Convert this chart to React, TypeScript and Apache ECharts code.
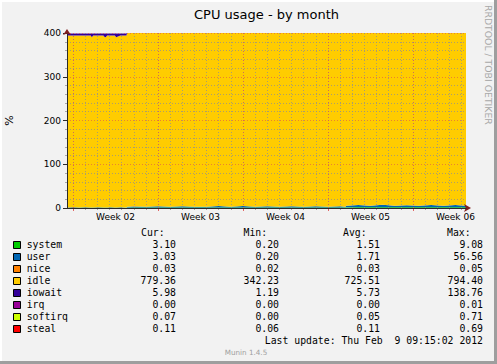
import React, { useEffect, useRef } from 'react';
import * as echarts from 'echarts';

// ---- time axis (days from the left edge of the graph) ----
const days = [0, 0.5, 1, 1.5, 1.95, 2.05, 2.15, 2.6, 3.0, 3.1, 3.2, 3.3, 3.6, 3.95, 4.05, 4.4, 4.9,
  4.95, 5.5, 6.5, 7.5, 8.5, 9.5, 10.5, 11.5, 12.5, 13.5, 14.5, 15.5, 16.5, 17.5, 18.5, 19.5, 20.5, 21.5, 22.5, 22.95,
  23.0, 24, 25, 26, 27, 28, 29, 30, 31, 32, 32.875];

// ---- stacked series values (%) ----
const systemValues = [0.4, 0.4, 0.5, 0.4, 0.4, 0.5, 0.4, 0.4, 0.4, 0.5, 0.4, 0.4, 0.4, 0.5, 0.4, 0.4, 0.4,
  1.2, 1.1, 1.3, 1.2, 1.2, 1.1, 1.3, 1.2, 1.4, 1.2, 1.2, 1.1, 1.2, 1.3, 1.2, 1.2, 1.1, 1.2, 1.3, 1.2,
  1.6, 1.5, 1.7, 1.6, 1.5, 1.6, 1.7, 1.5, 1.6, 1.6, 1.6];
const userValues = [0.6, 1.6, 0.6, 1.5, 0.6, 0.7, 0.6, 1.4, 0.6, 0.7, 0.6, 0.6, 1.5, 0.6, 0.7, 1.4, 0.6,
  1.5, 2.6, 1.6, 2.8, 1.5, 2.7, 1.6, 1.5, 2.9, 1.6, 3.4, 1.5, 2.6, 1.6, 2.7, 1.5, 2.8, 1.6, 2.7, 1.5,
  3.6, 5.2, 3.4, 5.6, 3.5, 4.9, 3.6, 5.3, 3.4, 5.1, 3.6];
const niceValues = [0.03, 0.03, 0.03, 0.03, 0.03, 0.03, 0.03, 0.03, 0.03, 0.03, 0.03, 0.03, 0.03, 0.03, 0.03, 0.03, 0.03,
  0.03, 0.03, 0.03, 0.03, 0.03, 0.03, 0.03, 0.03, 0.03, 0.03, 0.03, 0.03, 0.03, 0.03, 0.03, 0.03, 0.03, 0.03, 0.03, 0.03,
  0.03, 0.03, 0.03, 0.03, 0.03, 0.03, 0.03, 0.03, 0.03, 0.03, 0.03];
const idleValues = [393.3, 392.3, 393.2, 392.3, 393.3, 389.1, 393.2, 392.5, 393.3, 389.6, 389.3, 393.3, 392.3, 393.2, 389.2, 392.5, 393.3,
  397.6, 396.5, 397.4, 396.3, 397.6, 396.5, 397.4, 397.6, 396.2, 397.5, 396.5, 397.7, 396.5, 397.4, 396.4, 397.6, 396.4, 397.5, 396.3, 397.6,
  395.1, 393.6, 395.2, 393.2, 395.2, 393.8, 395.0, 393.5, 395.3, 393.6, 395.1];
const iowaitValues = [4.5, 4.5, 4.5, 4.6, 4.5, 8.5, 4.6, 4.5, 4.5, 8.0, 8.5, 4.5, 4.6, 4.5, 8.5, 4.5, 4.5,
  1.5, 1.6, 1.4, 1.5, 1.7, 1.5, 1.4, 1.6, 1.5, 1.5, 1.8, 1.5, 1.4, 1.6, 1.5, 1.5, 1.7, 1.5, 1.4, 1.6,
  1.6, 1.5, 1.7, 1.5, 1.6, 1.4, 1.5, 1.6, 1.5, 1.7, 1.6];
const irqValues = [0, 0, 0, 0, 0, 0, 0, 0, 0, 0, 0, 0, 0, 0, 0, 0, 0,
  0, 0, 0, 0, 0, 0, 0, 0, 0, 0, 0, 0, 0, 0, 0, 0, 0, 0, 0, 0,
  0, 0, 0, 0, 0, 0, 0, 0, 0, 0, 0];
const softirqValues = [0.05, 0.04, 0.05, 0.06, 0.05, 0.05, 0.04, 0.05, 0.05, 0.06, 0.05, 0.05, 0.04, 0.05, 0.05, 0.05, 0.05,
  0.05, 0.06, 0.05, 0.04, 0.05, 0.05, 0.05, 0.07, 0.05, 0.05, 0.04, 0.05, 0.05, 0.06, 0.05, 0.05, 0.05, 0.04, 0.05, 0.05,
  0.06, 0.05, 0.07, 0.05, 0.06, 0.05, 0.07, 0.06, 0.05, 0.06, 0.07];
const stealValues = [0.1, 0.1, 0.1, 0.1, 0.1, 0.1, 0.1, 0.1, 0.1, 0.1, 0.1, 0.1, 0.1, 0.1, 0.1, 0.1, 0.1,
  0.1, 0.1, 0.1, 0.1, 0.1, 0.1, 0.1, 0.1, 0.1, 0.1, 0.1, 0.1, 0.1, 0.1, 0.1, 0.1, 0.1, 0.1, 0.1, 0.1,
  0.11, 0.1, 0.11, 0.1, 0.11, 0.1, 0.11, 0.1, 0.11, 0.11, 0.11];

// ---- axis labels ----
const weekLabels = ['Week 02', 'Week 03', 'Week 04', 'Week 05', 'Week 06'];
const weekLabelDays = [4, 11, 18, 25, 32];
const totalDays = 32.875;
const yMin = 0;
const yMax = 400;
const yInterval = 100;

// ---- legend table ----
const legendNames = ['system', 'user', 'nice', 'idle', 'iowait', 'irq', 'softirq', 'steal'];
const legendColors = ['#00CC00', '#0066B3', '#FF8000', '#FFCC00', '#330099', '#990099', '#CCFF00', '#FF0000'];
const curValues = [3.10, 3.03, 0.03, 779.36, 5.98, 0.00, 0.07, 0.11];
const minValues = [0.20, 0.20, 0.02, 342.23, 1.19, 0.00, 0.00, 0.06];
const avgValues = [1.51, 1.71, 0.03, 725.51, 5.73, 0.00, 0.05, 0.11];
const maxValues = [9.08, 56.56, 0.05, 794.40, 138.76, 0.01, 0.71, 0.69];
const columnHeaders = ['Cur:', 'Min:', 'Avg:', 'Max:'];

const seriesValues = [systemValues, userValues, niceValues, idleValues, iowaitValues, irqValues, softirqValues, stealValues];

const DAY_MS = 86400000;
// eighth-of-a-day slots used only to place the day / week grid lines and week labels
const slots = Array.from({ length: Math.round(totalDays * 8) + 1 }, (_, i) => String(i));
const isDayBoundary = (i: number) => i % 8 === 4;
const isWeekBoundary = (i: number) => i % 56 === 4;
const weekLabelAt = (i: number) => weekLabelDays.indexOf(i / 8);

const GRID_COLOR = 'rgba(143,143,143,0.75)';
const MGRID_COLOR = 'rgba(222,79,79,0.6)';
const AXIS_COLOR = '#2a2a2a';
const ARROW_COLOR = '#801F1F';
const SANS = '"DejaVu Sans", sans-serif';
const MONO = '"DejaVu Sans Mono", monospace';

export default function App() {
  const ref = useRef<HTMLDivElement>(null);

  useEffect(() => {
    document.body.style.margin = '0';
    if (!ref.current) return;
    const chart = echarts.init(ref.current, undefined, { renderer: 'svg' });

    const headerY = 232.5;
    const rowY0 = 244.7;
    const rowStep = 12;
    const colHeaderX = [141, 243.5, 343, 447];
    const colValueX = [176, 279, 380, 483];
    const columns = [curValues, minValues, avgValues, maxValues];

    const monoText = (text: string, x: number, y: number, align: string, fill = '#000') => ({
      type: 'text',
      style: {
        text, x, y, fill,
        font: `9.8px ${MONO}`,
        align, textAlign: align,
        verticalAlign: 'middle', textVerticalAlign: 'middle',
      },
    });

    const elements: any[] = [
      // frame shading
      { type: 'rect', shape: { x: 0, y: 0, width: 497, height: 2 }, style: { fill: '#FFFFFF' } },
      { type: 'rect', shape: { x: 0, y: 0, width: 2, height: 364 }, style: { fill: '#FFFFFF' } },
      { type: 'rect', shape: { x: 0, y: 361, width: 497, height: 3 }, style: { fill: '#9E9E9E' } },
      { type: 'rect', shape: { x: 494, y: 0, width: 3, height: 364 }, style: { fill: '#9E9E9E' } },
      // title
      {
        type: 'text',
        style: {
          text: 'CPU usage - by month', x: 266.5, y: 14, fill: '#000',
          font: `13px ${SANS}`, align: 'center', textAlign: 'center',
          verticalAlign: 'middle', textVerticalAlign: 'middle',
        },
      },
      // vertical credit
      {
        type: 'text',
        x: 488, y: 5, rotation: -Math.PI / 2,
        style: {
          text: 'RRDTOOL / TOBI OETIKER', x: 0, y: 0, fill: '#A8A8A8',
          font: `9.3px ${SANS}`, align: 'left', textAlign: 'left',
          verticalAlign: 'middle', textVerticalAlign: 'middle',
        },
      },
    ];

    columnHeaders.forEach((h, c) => elements.push(monoText(h, colHeaderX[c], headerY, 'left')));

    legendNames.forEach((name, i) => {
      const y = rowY0 + i * rowStep;
      elements.push({
        type: 'rect',
        shape: { x: 13.5, y: y - 3.2, width: 7, height: 7 },
        style: { fill: legendColors[i], stroke: '#000', lineWidth: 1 },
      });
      elements.push(monoText(name, 26.7, y, 'left'));
      columns.forEach((col, c) => elements.push(monoText(col[i].toFixed(2), colValueX[c], y, 'right')));
    });

    elements.push(monoText('Last update: Thu Feb  9 09:15:02 2012', 483, rowY0 + 8 * rowStep, 'right'));
    elements.push({
      type: 'text',
      style: {
        text: 'Munin 1.4.5', x: 246, y: 352.7, fill: '#A0A0A0',
        font: `7.2px ${SANS}`, align: 'center', textAlign: 'center',
        verticalAlign: 'middle', textVerticalAlign: 'middle',
      },
    });

    const option: any = {
      animation: false,
      backgroundColor: '#F2F2F2',
      textStyle: { fontFamily: SANS },
      grid: {
        left: 67, right: 31, top: 33, bottom: 156,
        show: true, backgroundColor: '#FFFFFF', borderWidth: 0,
        containLabel: false, outerBoundsMode: 'none',
      },
      xAxis: [
        {
          type: 'time', min: 0, max: totalDays * DAY_MS, position: 'bottom', z: 4,
          axisLine: { show: true, onZero: false, lineStyle: { color: AXIS_COLOR, width: 1 } },
          axisTick: { show: false },
          splitLine: { show: false },
          axisLabel: { show: false },
        },
        {
          type: 'category', data: slots, boundaryGap: false, position: 'bottom', z: 3,
          axisLine: { show: false },
          axisLabel: { show: false },
          axisTick: { show: true, interval: isDayBoundary, length: 2, lineStyle: { color: GRID_COLOR } },
          splitLine: { show: true, interval: isDayBoundary, lineStyle: { color: GRID_COLOR, width: 1, type: [1, 2] } },
        },
        {
          type: 'category', data: slots, boundaryGap: false, position: 'bottom', z: 3,
          axisLine: {
            show: true, onZero: false, symbol: ['none', 'arrow'], symbolSize: [6, 7], symbolOffset: [0, 5],
            lineStyle: { color: ARROW_COLOR, width: 0 },
          },
          axisLabel: {
            show: true, fontSize: 9, color: '#000', margin: 4, fontFamily: SANS,
            interval: (i: number) => weekLabelAt(i) >= 0,
            formatter: (_v: string, i: number) => {
              const j = weekLabelAt(i);
              return j >= 0 ? weekLabels[j] : '';
            },
          },
          axisTick: { show: true, interval: isWeekBoundary, length: 3, lineStyle: { color: 'rgba(222,79,79,0.85)' } },
          splitLine: { show: true, interval: isWeekBoundary, lineStyle: { color: MGRID_COLOR, width: 1, type: [1, 2] } },
        },
      ],
      yAxis: [
        {
          type: 'value', min: yMin, max: yMax, interval: yInterval, position: 'left', z: 3,
          name: '%', nameLocation: 'middle', nameGap: 52, nameRotate: 90,
          nameTextStyle: { fontSize: 11, color: '#000', fontFamily: SANS },
          axisLine: { show: true, onZero: false, lineStyle: { color: AXIS_COLOR } },
          axisTick: { show: true, length: 4, lineStyle: { color: AXIS_COLOR } },
          minorTick: { show: true, splitNumber: 5, length: 2, lineStyle: { color: GRID_COLOR } },
          axisLabel: { fontSize: 9, color: '#000', margin: 6, fontFamily: SANS },
          splitLine: { show: true, lineStyle: { color: MGRID_COLOR, width: 1, type: [1, 2] } },
          minorSplitLine: { show: true, lineStyle: { color: GRID_COLOR, width: 1, type: [1, 2] } },
        },
        {
          type: 'value', min: yMin, max: yMax, position: 'left', z: 3,
          axisLine: {
            show: true, onZero: false, symbol: ['none', 'arrow'], symbolSize: [6, 6], symbolOffset: [0, 4],
            lineStyle: { color: ARROW_COLOR, width: 0 },
          },
          axisTick: { show: false },
          axisLabel: { show: false },
          splitLine: { show: false },
        },
      ],
      series: legendNames.map((name, k) => ({
        type: 'line',
        name,
        stack: 'cpu',
        xAxisIndex: 0,
        yAxisIndex: 0,
        data: days.map((d, i) => [d * DAY_MS, seriesValues[k][i]]),
        showSymbol: false,
        symbol: 'none',
        clip: true,
        z: 2,
        lineStyle: { width: 0, color: legendColors[k] },
        itemStyle: { color: legendColors[k] },
        areaStyle: { color: legendColors[k], opacity: 1 },
      })),
      graphic: { elements },
    };

    chart.setOption(option);
    return () => chart.dispose();
  }, []);

  return <div ref={ref} style={{ width: 497, height: 364 }} />;
}
